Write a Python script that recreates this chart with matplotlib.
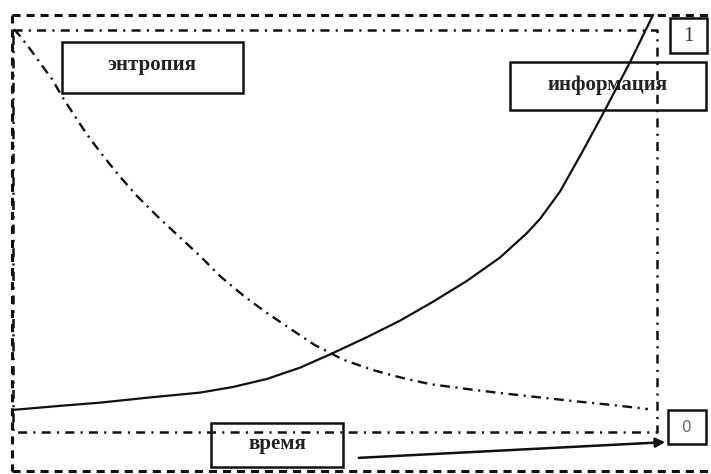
import matplotlib.pyplot as plt
from matplotlib.patches import Rectangle

plt.rcParams['lines.scale_dashes'] = False

# время (0..1) и уровни кривых
t_entropia = [0.0031, 0.0124, 0.0279, 0.0481, 0.0620, 0.0775, 0.0977, 0.1163, 0.1364,
              0.1643, 0.1938, 0.2264, 0.2605, 0.2915, 0.3225, 0.3612, 0.3953, 0.4341,
              0.4698, 0.4930, 0.5132, 0.5597, 0.6016, 0.6481, 0.7054, 0.7566, 0.8186,
              0.8698, 0.9318, 0.9860]
entropia = [1.002, 0.985, 0.953, 0.908, 0.878, 0.835, 0.785, 0.740, 0.697,
            0.641, 0.587, 0.535, 0.484, 0.438, 0.388, 0.336, 0.296, 0.254,
            0.216, 0.197, 0.180, 0.154, 0.136, 0.119, 0.107, 0.097, 0.086,
            0.077, 0.067, 0.057]

t_info = [0.0016, 0.0744, 0.1364, 0.2140, 0.2915, 0.3426, 0.3953, 0.4465, 0.4930,
          0.5504, 0.6016, 0.6527, 0.7054, 0.7566, 0.7984, 0.8186, 0.8496, 0.8853,
          0.9194, 0.9581, 0.9938]
informacia = [0.055, 0.065, 0.073, 0.086, 0.098, 0.112, 0.132, 0.160, 0.193,
              0.236, 0.277, 0.324, 0.376, 0.434, 0.495, 0.530, 0.598, 0.700,
              0.801, 0.920, 1.037]

labels = ['энтропия', 'информация', 'время']
marks = ['1', '0']

W, H = 711, 474
fig = plt.figure(figsize=(W / 100, H / 100), dpi=100)

# подложка в пиксельных координатах для рамок и подписей
ov = fig.add_axes([0, 0, 1, 1])
ov.set_xlim(0, W)
ov.set_ylim(H, 0)
ov.axis('off')

# основная область графика (внутренняя штрих-пунктирная рамка)
x0, y0, x1, y1 = 12, 30, 657, 432
ax = fig.add_axes([x0 / W, (H - y1) / H, (x1 - x0) / W, (y1 - y0) / H])
ax.set_xlim(0, 1)
ax.set_ylim(0, 1)
ax.axis('off')

k = '#111111'
dashed = (0, (5.8, 4.3))
dashdot = (0, (6.5, 4.5, 1.5, 4.5))

# внешняя пунктирная рамка (без правой стороны)
ov.plot([12, 711], [15, 15], color=k, lw=2.2, linestyle=dashed)
ov.plot([12, 12], [15, 471], color=k, lw=2.2, linestyle=dashed)
ov.plot([12, 711], [471, 471], color=k, lw=2.2, linestyle=dashed)

# внутренняя штрих-пунктирная рамка
ov.plot([13, 657, 657, 13, 13], [30, 30, 432, 432, 30], color=k, lw=1.8, linestyle=dashdot)

# кривые
ax.plot(t_entropia, entropia, color=k, lw=1.7, linestyle=(0, (7, 4, 1.5, 4)),
        dash_joinstyle='round', clip_on=False)
ax.plot(t_info, informacia, color=k, lw=1.6, solid_joinstyle='round', clip_on=False)

# подписи в рамках
boxes = [(62, 42, 243, 93), (510, 62, 706, 110), (211, 423, 343, 467)]
shifts = [-3, -1, -1]
for (bx0, by0, bx1, by1), lab, dy in zip(boxes, labels, shifts):
    ov.add_patch(Rectangle((bx0, by0), bx1 - bx0, by1 - by0, fill=False, ec=k, lw=1.8))
    ov.text((bx0 + bx1) / 2, (by0 + by1) / 2 + dy, lab, ha='center', va='center',
            fontsize=15, fontweight='bold', family='Liberation Serif', color='#222222')

ov.add_patch(Rectangle((670, 18), 37, 35, fill=False, ec=k, lw=1.8))
ov.text(688.5, 36, marks[0], ha='center', va='center', fontsize=15,
        family='Liberation Serif', color='#333333')
ov.add_patch(Rectangle((668, 410), 38, 34, fill=False, ec=k, lw=1.8))
ov.text(687, 427, marks[1], ha='center', va='center', fontsize=11,
        family='DejaVu Sans', color='#666666')

# стрелка времени
ov.annotate('', xy=(668, 442), xytext=(356, 458),
            arrowprops=dict(arrowstyle='-|>', color=k, lw=1.8, mutation_scale=14))

fig.savefig('out.png', dpi=100)
